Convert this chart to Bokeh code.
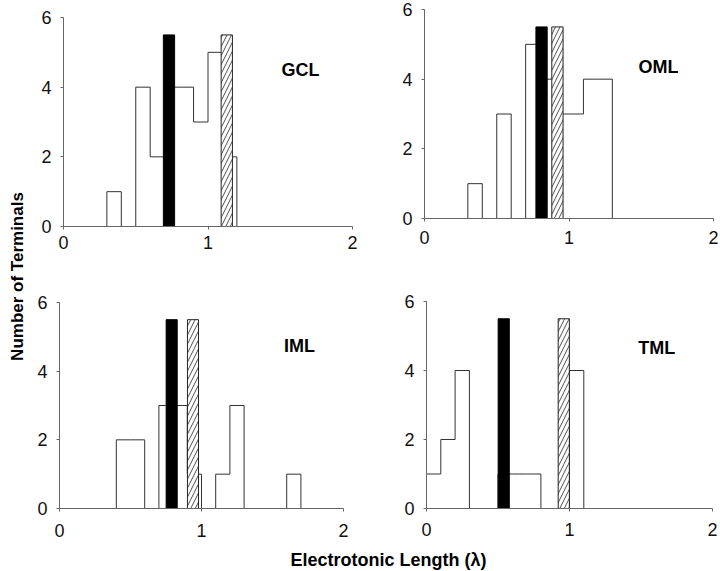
import math
from bokeh.plotting import figure
from bokeh.layouts import row, column
from bokeh.models import Label, Range1d, FixedTicker
from bokeh.embed import file_html
from bokeh.resources import INLINE

# ---- data ----
bin_left = [0.0, 0.1, 0.2, 0.3, 0.4, 0.5, 0.6, 0.7, 0.8, 0.9,
            1.0, 1.1, 1.2, 1.3, 1.4, 1.5, 1.6, 1.7, 1.8, 1.9]
bin_end = 2.0
panels = ["GCL", "OML", "IML", "TML"]
counts_gcl = [0, 0, 0, 1, 0, 4, 2, 4, 4, 3, 5, 2, 0, 0, 0, 0, 0, 0, 0, 0]
counts_oml = [0, 0, 0, 1, 0, 3, 0, 5, 4, 3, 3, 4, 4, 0, 0, 0, 0, 0, 0, 0]
counts_iml = [0, 0, 0, 0, 2, 2, 0, 3, 3, 1, 0, 1, 3, 0, 0, 0, 1, 0, 0, 0]
counts_tml = [1, 2, 4, 0, 0, 1, 1, 1, 0, 0, 4, 0, 0, 0, 0, 0, 0, 0, 0, 0]
black_marker = [0.73, 0.81, 0.79, 0.54]
hatched_marker = [1.13, 0.92, 0.94, 0.96]
marker_height = [5.5, 5.5, 5.5, 5.5]
x_ticks = [0, 1, 2]
y_ticks = [0, 2, 4, 6]

FONT = "Liberation Sans"
MARKER_W = 0.078


def panel(name, counts, bm, hm, mh, width, height, mb_left, mb_right, mb_top,
          mb_bottom, x_standoff, lab_xy):
    p = figure(width=width, height=height, output_backend="svg",
               toolbar_location=None, x_range=Range1d(0, 2),
               y_range=Range1d(0, 6), min_border_left=mb_left,
               min_border_right=mb_right, min_border_top=mb_top,
               min_border_bottom=mb_bottom)
    p.outline_line_color = None
    p.xgrid.visible = False
    p.ygrid.visible = False
    p.xaxis.ticker = FixedTicker(ticks=x_ticks)
    p.yaxis.ticker = FixedTicker(ticks=y_ticks)
    for ax in (p.xaxis[0], p.yaxis[0]):
        ax.axis_line_color = "#666666"
        ax.major_tick_line_color = "#666666"
        ax.minor_tick_line_color = None
        ax.major_tick_in = 0
        ax.major_tick_out = 3
        ax.major_label_text_font = FONT
        ax.major_label_text_font_size = "18px"
        ax.major_label_text_color = "#111111"
    p.xaxis.major_label_standoff = x_standoff
    p.yaxis.major_label_standoff = 9

    xs = [0.0] + bin_left + [bin_end]
    ys = [0] + counts + [0]
    p.step(x=xs, y=ys, mode="after", line_color="#333333", line_width=1)

    p.quad(left=[bm - MARKER_W / 2], right=[bm + MARKER_W / 2], bottom=[0],
           top=[mh], fill_color="black", line_color="black")
    p.quad(left=[hm - MARKER_W / 2], right=[hm + MARKER_W / 2], bottom=[0],
           top=[mh], fill_color="white", line_color="#222222",
           hatch_pattern="/", hatch_color="#222222", hatch_scale=9,
           hatch_weight=0.8)

    p.add_layout(Label(x=lab_xy[0], y=lab_xy[1], text=name,
                       text_align="center", text_baseline="middle",
                       text_font=FONT, text_font_style="bold",
                       text_font_size="18px", text_color="black"))
    return p


f1 = panel(panels[0], counts_gcl, black_marker[0], hatched_marker[0],
           marker_height[0], 356, 275, 29, 38, 17, 49, 6, (1.64, 4.5))
f2 = panel(panels[1], counts_oml, black_marker[1], hatched_marker[1],
           marker_height[1], 330, 275, 34, 7, 9, 57, 9, (1.62, 4.35))
f3 = panel(panels[2], counts_iml, black_marker[2], hatched_marker[2],
           marker_height[2], 351, 273, 23, 42, 27, 40, 12, (1.69, 4.72))
f4 = panel(panels[3], counts_tml, black_marker[3], hatched_marker[3],
           marker_height[3], 335, 273, 41, 8, 26, 40, 11, (1.61, 4.66))


def blank(width, height):
    p = figure(width=width, height=height, output_backend="svg",
               toolbar_location=None, x_range=Range1d(0, 1),
               y_range=Range1d(0, 1), min_border=0,
               x_axis_location=None, y_axis_location=None)
    p.outline_line_color = None
    p.xgrid.visible = False
    p.ygrid.visible = False
    return p


yfig = blank(34, 570)
yfig.add_layout(Label(x=0.5, y=(570 - 276) / 570, text="Number of Terminals",
                      angle=math.pi / 2, text_align="center",
                      text_baseline="middle", text_font=FONT,
                      text_font_style="bold", text_font_size="17px",
                      text_color="black"))

xfig = blank(686, 22)
xfig.add_layout(Label(x=(388 - 34) / 686, y=0.5,
                      text="Electrotonic Length (\u03bb)", text_align="center",
                      text_baseline="middle", text_font=FONT,
                      text_font_style="bold", text_font_size="18px",
                      text_color="black"))

layout = row(yfig, column(row(column(f1), column(f2)),
                          row(column(f3), column(f4)), xfig))

open("out.html", "w").write(file_html(layout, INLINE))
